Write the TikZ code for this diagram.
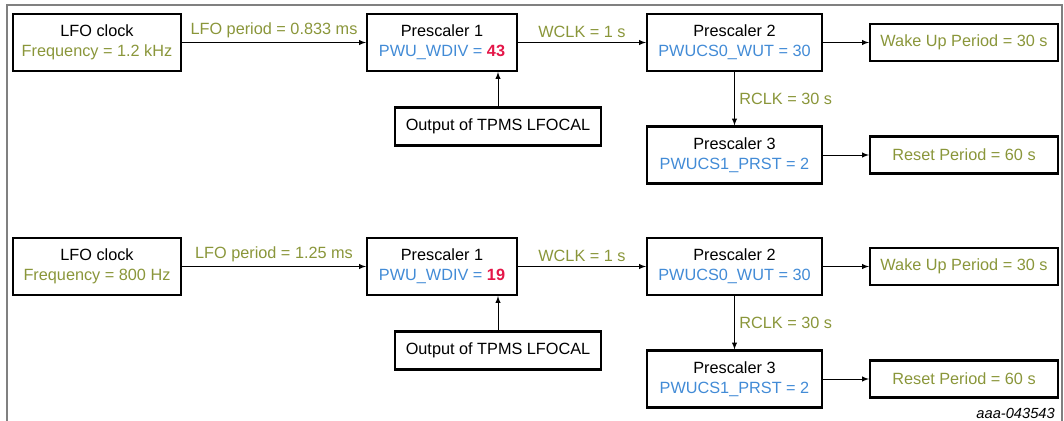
\documentclass[tikz,border=0pt]{standalone}
\usepackage{fontspec}
\setmainfont{Liberation Sans}
\definecolor{olive}{RGB}{138,150,58}
\definecolor{regblue}{RGB}{66,139,214}
\definecolor{valred}{RGB}{228,22,72}

\begin{document}
\begin{tikzpicture}[x=0.75pt, y=-0.75pt, >=latex,
    font=\fontsize{12.2}{15}\selectfont,
    blockbox/.style={rectangle, draw, line width=1.6pt, align=center, inner sep=0pt, minimum height=42.75pt},
    resbox/.style={rectangle, draw, line width=1.6pt, inner sep=0pt, minimum width=141pt, minimum height=27.75pt, text=olive},
    link/.style={->, line width=0.75pt}]
    \useasboundingbox (0,0) rectangle (1064,421);
    % 枠
    \draw[gray, line width=0.8pt] (7,421) -- (7,5) -- (1062,5) -- (1062,421);

    % 上段 (1.2 kHz)
    \node[blockbox, minimum width=126pt] (lfoA) at (97,42.5) {LFO clock\\\textcolor{olive}{Frequency = 1.2 kHz}};
    \node[blockbox, minimum width=112.5pt] (preA1) at (442,42.5) {Prescaler 1\\\textcolor{regblue}{PWU\_WDIV = }\textcolor{valred}{\textbf{43}}};
    \node[blockbox, minimum width=131.25pt] (preA2) at (734.5,42.5) {Prescaler 2\\\textcolor{regblue}{PWUCS0\_WUT = 30}};
    \node[blockbox, minimum width=131.25pt] (preA3) at (734.5,155) {Prescaler 3\\\textcolor{regblue}{PWUCS1\_PRST = 2}};
    \node[resbox] (wakeA) at (964,42.5) {Wake Up Period = 30 s};
    \node[resbox] (rstA) at (964,155) {Reset Period = 60 s};
    \node[blockbox, minimum width=154.5pt, minimum height=28.5pt] (calA) at (498,126.5) {Output of TPMS LFOCAL};

    \draw[link] (lfoA) -- node[above, text=olive] {LFO period = 0.833 ms} (preA1);
    \draw[link] (preA1) -- node[above, text=olive] {WCLK = 1 s} (preA2);
    \draw[link] (preA2) -- (wakeA);
    \draw[link] (preA2) -- node[right, text=olive] {RCLK = 30 s} (preA3);
    \draw[link] (preA3) -- (rstA);
    \draw[link] (calA) -- (calA |- preA1.south);

    % 下段 (800 Hz)
    \node[blockbox, minimum width=126pt] (lfoB) at (97,266.5) {LFO clock\\\textcolor{olive}{Frequency = 800 Hz}};
    \node[blockbox, minimum width=112.5pt] (preB1) at (442,266.5) {Prescaler 1\\\textcolor{regblue}{PWU\_WDIV = }\textcolor{valred}{\textbf{19}}};
    \node[blockbox, minimum width=131.25pt] (preB2) at (734.5,266.5) {Prescaler 2\\\textcolor{regblue}{PWUCS0\_WUT = 30}};
    \node[blockbox, minimum width=131.25pt] (preB3) at (734.5,379) {Prescaler 3\\\textcolor{regblue}{PWUCS1\_PRST = 2}};
    \node[resbox] (wakeB) at (964,266.5) {Wake Up Period = 30 s};
    \node[resbox] (rstB) at (964,379) {Reset Period = 60 s};
    \node[blockbox, minimum width=154.5pt, minimum height=28.5pt] (calB) at (498,350.5) {Output of TPMS LFOCAL};

    \draw[link] (lfoB) -- node[above, text=olive] {LFO period = 1.25 ms} (preB1);
    \draw[link] (preB1) -- node[above, text=olive] {WCLK = 1 s} (preB2);
    \draw[link] (preB2) -- (wakeB);
    \draw[link] (preB2) -- node[right, text=olive] {RCLK = 30 s} (preB3);
    \draw[link] (preB3) -- (rstB);
    \draw[link] (calB) -- (calB |- preB1.south);

    % 図番号
    \node[anchor=base east, inner sep=0pt, font=\fontsize{11}{13}\selectfont\itshape] (figid) at (1055,418) {aaa-043543};
\end{tikzpicture}
\end{document}
